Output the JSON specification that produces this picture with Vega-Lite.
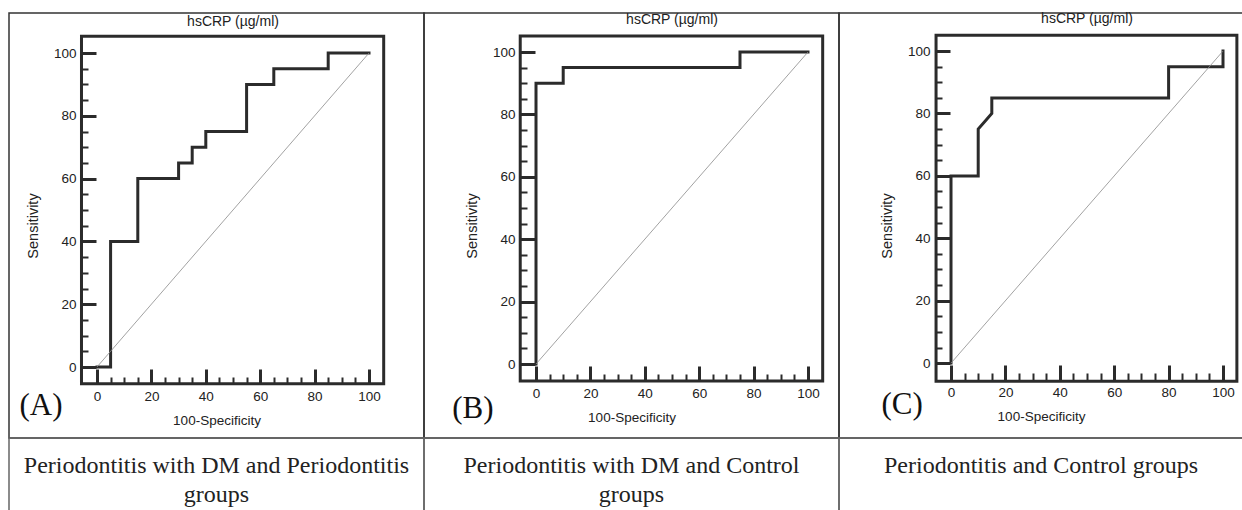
{
  "$schema": "https://vega.github.io/schema/vega-lite/v6.json",
  "padding": {"left": 8, "top": 11, "right": 0, "bottom": 0},
  "background": "white",
  "datasets": {
    "rocA": [
      {"i": 0, "fpr": 0, "sens": 0}, {"i": 1, "fpr": 5, "sens": 0}, {"i": 2, "fpr": 5, "sens": 40},
      {"i": 3, "fpr": 15, "sens": 40}, {"i": 4, "fpr": 15, "sens": 60}, {"i": 5, "fpr": 30, "sens": 60},
      {"i": 6, "fpr": 30, "sens": 65}, {"i": 7, "fpr": 35, "sens": 65}, {"i": 8, "fpr": 35, "sens": 70},
      {"i": 9, "fpr": 40, "sens": 70}, {"i": 10, "fpr": 40, "sens": 75}, {"i": 11, "fpr": 55, "sens": 75},
      {"i": 12, "fpr": 55, "sens": 90}, {"i": 13, "fpr": 65, "sens": 90}, {"i": 14, "fpr": 65, "sens": 95},
      {"i": 15, "fpr": 85, "sens": 95}, {"i": 16, "fpr": 85, "sens": 100}, {"i": 17, "fpr": 100, "sens": 100}
    ],
    "rocB": [
      {"i": 0, "fpr": 0, "sens": 0}, {"i": 1, "fpr": 0, "sens": 90}, {"i": 2, "fpr": 10, "sens": 90},
      {"i": 3, "fpr": 10, "sens": 95}, {"i": 4, "fpr": 75, "sens": 95}, {"i": 5, "fpr": 75, "sens": 100},
      {"i": 6, "fpr": 100, "sens": 100}
    ],
    "rocC": [
      {"i": 0, "fpr": 0, "sens": 0}, {"i": 1, "fpr": 0, "sens": 60}, {"i": 2, "fpr": 10, "sens": 60},
      {"i": 3, "fpr": 10, "sens": 75}, {"i": 4, "fpr": 15, "sens": 80}, {"i": 5, "fpr": 15, "sens": 85},
      {"i": 6, "fpr": 80, "sens": 85}, {"i": 7, "fpr": 80, "sens": 95}, {"i": 8, "fpr": 100, "sens": 95},
      {"i": 9, "fpr": 100, "sens": 100}
    ],
    "one": [{}]
  },
  "columns": 3,
  "spacing": 0,
  "bounds": "flush",
  "concat": [
    {
      "width": 415,
      "height": 425,
      "view": {"stroke": "#333", "strokeWidth": 1.5},
      "resolve": {"axis": {"x": "independent", "y": "independent"}},
      "layer": [
        {
          "data": {"name": "rocA"},
          "mark": {"type": "line", "color": "#2b2b2b", "strokeWidth": 3, "strokeCap": "square"},
          "encoding": {
            "x": {"field": "fpr", "type": "quantitative", "scale": {"domain": [-32.35, 120.22], "nice": false, "zero": false},
              "axis": {"orient": "bottom", "offset": -54, "title": "100-Specificity", "titlePadding": 11,
                "values": [0, 20, 40, 60, 80, 100], "tickSize": -15, "tickWidth": 3, "labelPadding": 20}},
            "y": {"field": "sens", "type": "quantitative", "scale": {"domain": [-22.61, 112.74], "nice": false, "zero": false},
              "axis": {"orient": "left", "offset": -72, "title": "Sensitivity", "titlePadding": 13, "titleFontSize": 14.5,
                "values": [0, 20, 40, 60, 80, 100], "tickSize": -15, "tickWidth": 3, "labelPadding": 20}},
            "order": {"field": "i", "type": "quantitative"}
          }
        },
        {
          "data": {"name": "one"},
          "mark": {"type": "rect", "filled": false, "stroke": "#2b2b2b", "strokeWidth": 3},
          "encoding": {
            "x": {"datum": -5.7, "type": "quantitative", "axis": {"orient": "bottom", "offset": -54, "title": null, "labels": false,
              "values": [5,10,15,25,30,35,45,50,55,65,70,75,85,90,95], "tickSize": -7, "tickWidth": 2}},
            "x2": {"datum": 105.4},
            "y": {"datum": -5.3, "type": "quantitative", "axis": {"orient": "left", "offset": -72, "title": null, "labels": false,
              "values": [5,10,15,25,30,35,45,50,55,65,70,75,85,90,95], "tickSize": -7, "tickWidth": 2}},
            "y2": {"datum": 105.3}
          }
        },
        {
          "data": {"name": "one"},
          "mark": {"type": "rule", "color": "#8a8a8a", "strokeWidth": 0.8},
          "encoding": {
            "x": {"datum": 0, "type": "quantitative", "axis": null}, "x2": {"datum": 100},
            "y": {"datum": 0, "type": "quantitative", "axis": null}, "y2": {"datum": 100}
          }
        },
        {
          "data": {"name": "one"},
          "mark": {"type": "text", "text": "hsCRP (µg/ml)", "fontSize": 14, "color": "#222", "baseline": "middle"},
          "encoding": {"x": {"datum": 50, "type": "quantitative", "axis": null}, "y": {"datum": 109.9, "type": "quantitative", "axis": null}}
        },
        {
          "data": {"name": "one"},
          "mark": {"type": "text", "text": "(A)", "font": "Liberation Serif", "fontSize": 31, "color": "#111", "baseline": "middle"},
          "encoding": {"x": {"datum": -20.6, "type": "quantitative", "axis": null}, "y": {"datum": -12.4, "type": "quantitative", "axis": null}}
        }
      ]
    },
    {
      "width": 415,
      "height": 425,
      "view": {"stroke": "#333", "strokeWidth": 1.5},
      "resolve": {"axis": {"x": "independent", "y": "independent"}},
      "layer": [
        {
          "data": {"name": "rocB"},
          "mark": {"type": "line", "color": "#2b2b2b", "strokeWidth": 3, "strokeCap": "square"},
          "encoding": {
            "x": {"field": "fpr", "type": "quantitative", "scale": {"domain": [-41.18, 111.4], "nice": false, "zero": false},
              "axis": {"orient": "bottom", "offset": -57, "title": "100-Specificity", "titlePadding": 11,
                "values": [0, 20, 40, 60, 80, 100], "tickSize": -15, "tickWidth": 3, "labelPadding": 20}},
            "y": {"field": "sens", "type": "quantitative", "scale": {"domain": [-23.7, 112.5], "nice": false, "zero": false},
              "axis": {"orient": "left", "offset": -96, "title": "Sensitivity", "titlePadding": 13, "titleFontSize": 14.5,
                "values": [0, 20, 40, 60, 80, 100], "tickSize": -15, "tickWidth": 3, "labelPadding": 20}},
            "order": {"field": "i", "type": "quantitative"}
          }
        },
        {
          "data": {"name": "one"},
          "mark": {"type": "rect", "filled": false, "stroke": "#2b2b2b", "strokeWidth": 3},
          "encoding": {
            "x": {"datum": -5.8, "type": "quantitative", "axis": {"orient": "bottom", "offset": -57, "title": null, "labels": false,
              "values": [5,10,15,25,30,35,45,50,55,65,70,75,85,90,95], "tickSize": -7, "tickWidth": 2}},
            "x2": {"datum": 105.4},
            "y": {"datum": -5.4, "type": "quantitative", "axis": {"orient": "left", "offset": -96, "title": null, "labels": false,
              "values": [5,10,15,25,30,35,45,50,55,65,70,75,85,90,95], "tickSize": -7, "tickWidth": 2}},
            "y2": {"datum": 105.1}
          }
        },
        {
          "data": {"name": "one"},
          "mark": {"type": "rule", "color": "#8a8a8a", "strokeWidth": 0.8},
          "encoding": {
            "x": {"datum": 0, "type": "quantitative", "axis": null}, "x2": {"datum": 100},
            "y": {"datum": 0, "type": "quantitative", "axis": null}, "y2": {"datum": 100}
          }
        },
        {
          "data": {"name": "one"},
          "mark": {"type": "text", "text": "hsCRP (µg/ml)", "fontSize": 14, "color": "#222", "baseline": "middle"},
          "encoding": {"x": {"datum": 50, "type": "quantitative", "axis": null}, "y": {"datum": 110.3, "type": "quantitative", "axis": null}}
        },
        {
          "data": {"name": "one"},
          "mark": {"type": "text", "text": "(B)", "font": "Liberation Serif", "fontSize": 31, "color": "#111", "baseline": "middle"},
          "encoding": {"x": {"datum": -23.2, "type": "quantitative", "axis": null}, "y": {"datum": -14.4, "type": "quantitative", "axis": null}}
        }
      ]
    },
    {
      "width": 404,
      "height": 425,
      "view": {"stroke": "#333", "strokeWidth": 1.5},
      "resolve": {"axis": {"x": "independent", "y": "independent"}},
      "layer": [
        {
          "data": {"name": "rocC"},
          "mark": {"type": "line", "color": "#2b2b2b", "strokeWidth": 3, "strokeCap": "square"},
          "encoding": {
            "x": {"field": "fpr", "type": "quantitative", "scale": {"domain": [-41.18, 107.35], "nice": false, "zero": false},
              "axis": {"orient": "bottom", "offset": -58, "title": "100-Specificity", "titlePadding": 11,
                "values": [0, 20, 40, 60, 80, 100], "tickSize": -15, "tickWidth": 3, "labelPadding": 20}},
            "y": {"field": "sens", "type": "quantitative", "scale": {"domain": [-24.0, 112.2], "nice": false, "zero": false},
              "axis": {"orient": "left", "offset": -96, "title": "Sensitivity", "titlePadding": 13, "titleFontSize": 14.5,
                "values": [0, 20, 40, 60, 80, 100], "tickSize": -15, "tickWidth": 3, "labelPadding": 20}},
            "order": {"field": "i", "type": "quantitative"}
          }
        },
        {
          "data": {"name": "one"},
          "mark": {"type": "rect", "filled": false, "stroke": "#2b2b2b", "strokeWidth": 3},
          "encoding": {
            "x": {"datum": -5.5, "type": "quantitative", "axis": {"orient": "bottom", "offset": -58, "title": null, "labels": false,
              "values": [5,10,15,25,30,35,45,50,55,65,70,75,85,90,95], "tickSize": -7, "tickWidth": 2}},
            "x2": {"datum": 105.1},
            "y": {"datum": -5.8, "type": "quantitative", "axis": {"orient": "left", "offset": -96, "title": null, "labels": false,
              "values": [5,10,15,25,30,35,45,50,55,65,70,75,85,90,95], "tickSize": -7, "tickWidth": 2}},
            "y2": {"datum": 105.1}
          }
        },
        {
          "data": {"name": "one"},
          "mark": {"type": "rule", "color": "#8a8a8a", "strokeWidth": 0.8},
          "encoding": {
            "x": {"datum": 0, "type": "quantitative", "axis": null}, "x2": {"datum": 100},
            "y": {"datum": 0, "type": "quantitative", "axis": null}, "y2": {"datum": 100}
          }
        },
        {
          "data": {"name": "one"},
          "mark": {"type": "text", "text": "hsCRP (µg/ml)", "fontSize": 14, "color": "#222", "baseline": "middle"},
          "encoding": {"x": {"datum": 50, "type": "quantitative", "axis": null}, "y": {"datum": 110.3, "type": "quantitative", "axis": null}}
        },
        {
          "data": {"name": "one"},
          "mark": {"type": "text", "text": "(C)", "font": "Liberation Serif", "fontSize": 31, "color": "#111", "baseline": "middle"},
          "encoding": {"x": {"datum": -18, "type": "quantitative", "axis": null}, "y": {"datum": -13.5, "type": "quantitative", "axis": null}}
        }
      ]
    },
    {
      "width": 415,
      "height": 74,
      "view": {"stroke": "#666", "strokeWidth": 1.5},
      "data": {"values": [{"caption": "Periodontitis with DM and Periodontitis\ngroups"}]},
      "mark": {"type": "text", "lineBreak": "\n", "font": "Liberation Serif", "fontSize": 24, "lineHeight": 29, "color": "#222", "baseline": "alphabetic", "dy": -2},
      "encoding": {"text": {"field": "caption"}}
    },
    {
      "width": 415,
      "height": 74,
      "view": {"stroke": "#666", "strokeWidth": 1.5},
      "data": {"values": [{"caption": "Periodontitis with DM and Control\ngroups"}]},
      "mark": {"type": "text", "lineBreak": "\n", "font": "Liberation Serif", "fontSize": 24, "lineHeight": 29, "color": "#222", "baseline": "alphabetic", "dy": -2},
      "encoding": {"text": {"field": "caption"}}
    },
    {
      "width": 404,
      "height": 74,
      "view": {"stroke": "#666", "strokeWidth": 1.5},
      "data": {"values": [{"caption": "Periodontitis and Control groups"}]},
      "mark": {"type": "text", "lineBreak": "\n", "font": "Liberation Serif", "fontSize": 24, "lineHeight": 29, "color": "#222", "baseline": "alphabetic", "dy": -2},
      "encoding": {"text": {"field": "caption"}}
    }
  ],
  "config": {
    "font": "Liberation Sans",
    "axis": {
      "labelFont": "Liberation Sans", "labelFontSize": 13.5, "labelColor": "#222",
      "titleFont": "Liberation Sans", "titleFontSize": 13.5, "titleFontWeight": "normal", "titleColor": "#222",
      "grid": false, "domain": false, "tickColor": "#2b2b2b", "labelOverlap": false
    }
  }
}
